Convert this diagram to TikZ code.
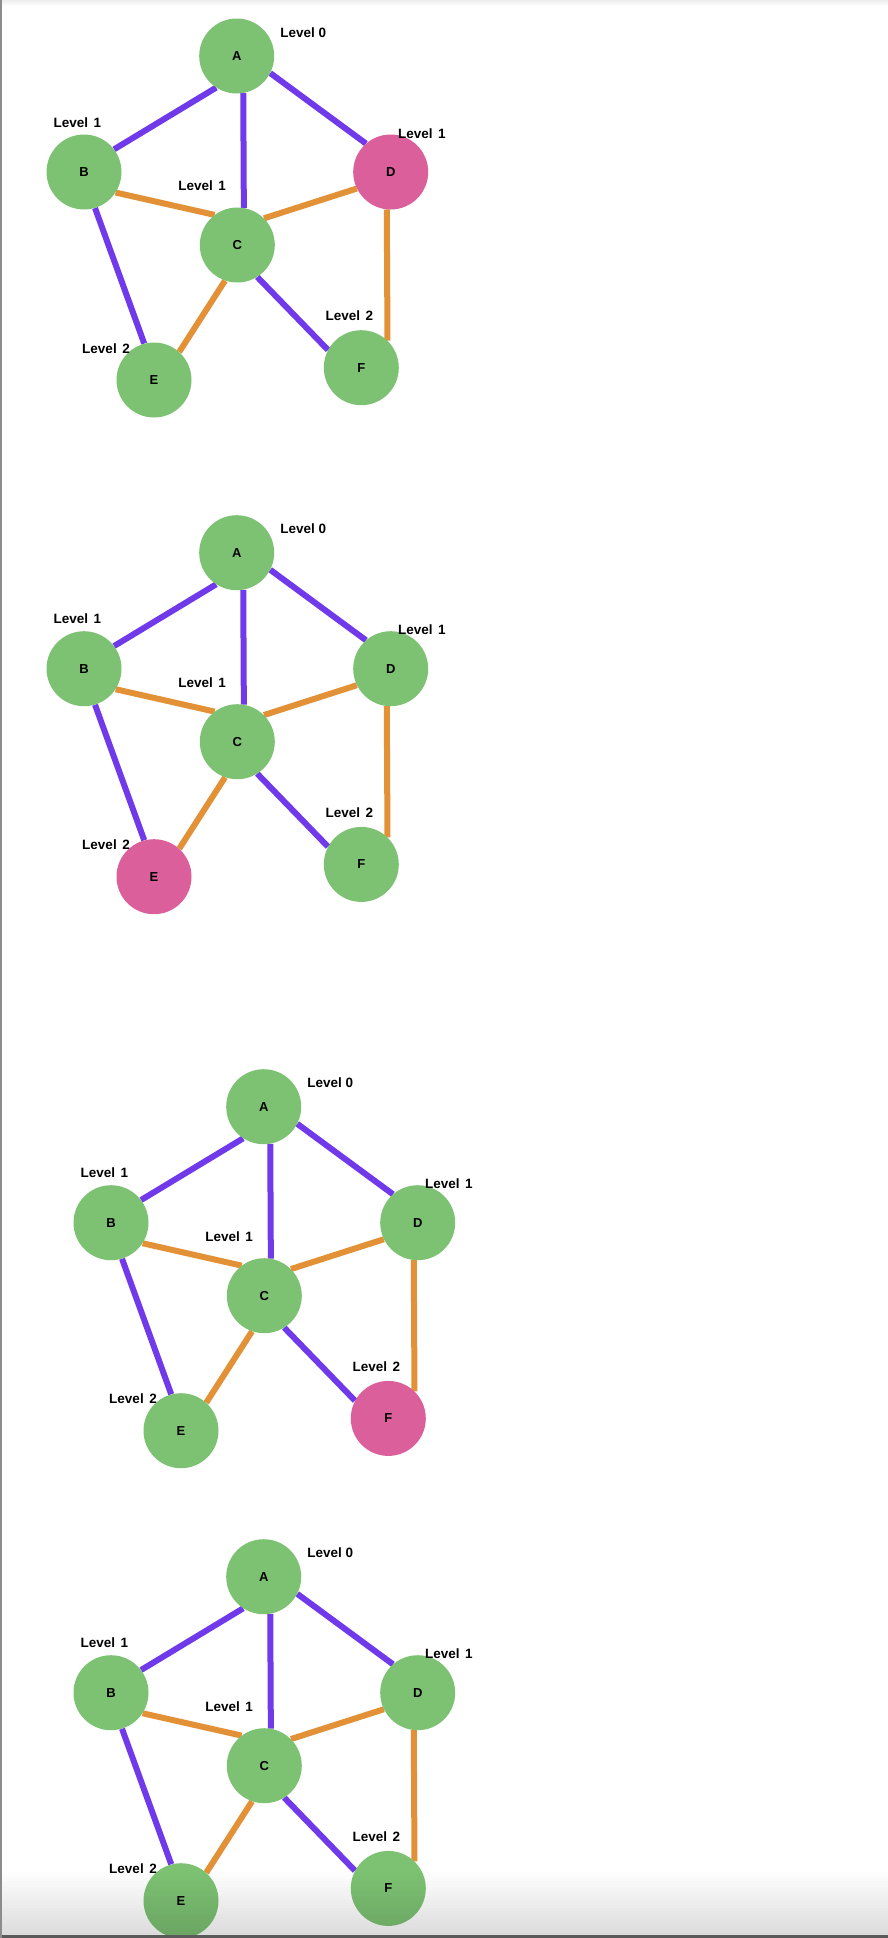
\documentclass[tikz,border=0pt]{standalone}
\usepackage{fontspec}
\setmainfont{Liberation Sans}
\usetikzlibrary{backgrounds}
\definecolor{nodegreen}{RGB}{125,194,115}
\definecolor{nodepink}{RGB}{218,95,155}
\definecolor{treeedge}{RGB}{112,58,235}
\definecolor{crossedge}{RGB}{226,145,55}
\definecolor{frame}{RGB}{140,140,140}
\definecolor{frameshade}{RGB}{90,90,90}
\newcommand{\lvtext}[1]{Level\hspace{5.5pt}#1}
\begin{document}
\begin{tikzpicture}[x=1pt,y=-1pt,
  vtx/.style={circle, minimum size=75pt, inner sep=0pt,
    font=\bfseries\fontsize{13}{14}\selectfont},
  lvl/.style={font=\bfseries\fontsize{13.5}{15}\selectfont, inner sep=0pt},
  tree/.style={draw=treeedge, line width=6pt},
  cross/.style={draw=crossedge, line width=6pt}]
\begin{pgfonlayer}{background}
  \fill[white] (0,0) rectangle (888,1938);
\end{pgfonlayer}
\useasboundingbox (0,0) rectangle (888,1938);

% four snapshots of the same BFS graph, each with one vertex highlighted
\foreach \dx/\dy/\hl/\p in {0/0/D/g1, 0/496.7/E/g2, 27/1050.7/F/g3, 27/1520.7/none/g4}{
  \colorlet{cA}{nodegreen}\colorlet{cB}{nodegreen}\colorlet{cC}{nodegreen}
  \colorlet{cD}{nodegreen}\colorlet{cE}{nodegreen}\colorlet{cF}{nodegreen}
  \colorlet{c\hl}{nodepink}
  \begin{scope}[shift={(\dx,\dy)}, name prefix=\p-]
    \node[vtx, fill=cA] (A) at (236.7,56) {A};
    \node[vtx, fill=cB] (B) at (84,172) {B};
    \node[vtx, fill=cC] (C) at (237.3,245) {C};
    \node[vtx, fill=cD] (D) at (390.7,172) {D};
    \node[vtx, fill=cE] (E) at (154,380) {E};
    \node[vtx, fill=cF] (F) at (361.3,367.7) {F};
    \begin{scope}[on background layer]
      \draw[tree]  (A.237.6) -- (B.37.2);
      \draw[tree]  (A.280.6) -- (C.80.1);
      \draw[tree]  (A.-27.2) -- (D.131.8);
      \draw[cross] (B.-33)   -- (C.127.6);
      \draw[cross] (C.45.7)  -- (D.206.7);
      \draw[tree]  (B.-73.1) -- (E.105.2);
      \draw[cross] (C.251.7) -- (E.48.5);
      \draw[tree]  (C.-58.5) -- (F.152.2);
      \draw[cross] (D.264.6) -- (F.46.8);
    \end{scope}
    \node[lvl] (lA) at (303.3,32.3) {Level 0};
    \node[lvl] (lB) at (77.3,122.3) {\lvtext{1}};
    \node[lvl] (lD) at (421.8,133.3) {\lvtext{1}};
    \node[lvl] (lC) at (202.2,186) {\lvtext{1}};
    \node[lvl] (lF) at (349.3,316) {\lvtext{2}};
    \node[lvl] (lE) at (106,348.3) {\lvtext{2}};
  \end{scope}
}

% window edges: faint top shade, grey left rule, darkening bottom
\foreach \i in {0,...,5}{
  \fill[black, opacity=0.012*(6-\i)] (0,\i) rectangle (888,\i+1);
}
\foreach \i in {0,...,21}{
  \fill[black, opacity=0.0065*\i] (0,1869+3*\i) rectangle (888,1872+3*\i);
}
\fill[frameshade] (0,1935) rectangle (888,1938);
\fill[frame] (0,0) rectangle (2,1938);
\end{tikzpicture}
\end{document}
